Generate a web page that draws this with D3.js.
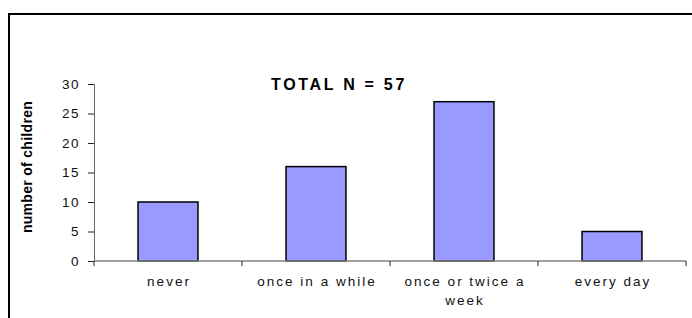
<!DOCTYPE html>
<html>
<head>
<meta charset="utf-8">
<script src="https://cdn.jsdelivr.net/npm/d3@7"></script>
<style>
  body { margin: 0; background: #fff; }
  text { font-family: "Liberation Sans", Arial, sans-serif; }
</style>
</head>
<body>
<div id="chart"></div>
<script>
var categories = ["never", "once in a while", "once or twice a week", "every day"];
var counts = [10, 16, 27, 5];
var yTicks = [0, 5, 10, 15, 20, 25, 30];
var labelLines = [["never"], ["once in a while"], ["once or twice a", "week"], ["every day"]];

var data = categories.map(function(c, i) {
    return { cat: c, n: counts[i], lines: labelLines[i] };
});

var W = 692, H = 318;
var margin = { top: 84, left: 94, bottom: 57, right: 6 },
    width = W - margin.left - margin.right,
    height = H - margin.top - margin.bottom;

var root = d3.select("#chart").append("svg")
    .attr("width", W)
    .attr("height", H);

// outer frame (only top and left edges fall inside the picture)
root.append("path")
    .attr("d", "M9,318 V14 H692")
    .attr("fill", "none")
    .attr("stroke", "#000")
    .attr("stroke-width", 2);

var svg = root.append("g")
    .attr("transform", "translate(" + margin.left + "," + margin.top + ")");

const x = d3.scaleBand()
    .domain(categories)
    .range([0, width])
    .paddingInner(0.595)
    .paddingOuter(0.2975);

const y = d3.scaleLinear()
    .domain([0, 30])
    .range([height, 0]);

// bars
svg.selectAll("rect")
    .data(data)
    .join("rect")
    .attr("x", d => x(d.cat))
    .attr("y", d => y(d.n))
    .attr("width", x.bandwidth())
    .attr("height", d => height - y(d.n))
    .attr("fill", "#9999ff")
    .attr("stroke", "#000")
    .attr("stroke-width", 1.5);

// y axis
var yAxis = svg.append("g")
    .attr("class", "y-axis")
    .call(d3.axisLeft(y).tickValues(yTicks).tickSize(6).tickPadding(8));
yAxis.select(".domain").attr("stroke", "#666");
yAxis.selectAll(".tick line").attr("stroke", "#222");
yAxis.selectAll("text")
    .style("font-size", "13.5px")
    .style("letter-spacing", "1.5px")
    .attr("fill", "#111");

// x axis with ticks between categories
var xAxis = svg.append("g")
    .attr("class", "x-axis")
    .attr("transform", "translate(0," + height + ")");
xAxis.append("line")
    .attr("x1", 0).attr("x2", width)
    .attr("stroke", "#808080").attr("stroke-width", 1.5);
d3.range(categories.length + 1).forEach(function(i) {
    var tx = i * (width / categories.length);
    xAxis.append("line")
        .attr("x1", tx).attr("x2", tx)
        .attr("y1", 0).attr("y2", 5)
        .attr("stroke", "#222");
});

xAxis.selectAll(".xlabel")
    .data(data)
    .join("text")
    .attr("class", "xlabel")
    .attr("text-anchor", "middle")
    .attr("fill", "#111")
    .style("font-size", "13.5px")
    .style("letter-spacing", "2px")
    .each(function(d) {
        var t = d3.select(this);
        d.lines.forEach(function(line, j) {
            t.append("tspan")
                .attr("x", x(d.cat) + x.bandwidth() / 2 + 1)
                .attr("y", 25 + j * 19)
                .text(line);
        });
    });

// y axis title
root.append("text")
    .attr("transform", "rotate(-90)")
    .attr("x", -167)
    .attr("y", 32)
    .attr("text-anchor", "middle")
    .style("font-size", "14px")
    .style("font-weight", "bold")
    .style("letter-spacing", "0.3px")
    .text("number of children");

// chart title
root.append("text")
    .attr("x", 339)
    .attr("y", 90)
    .attr("text-anchor", "middle")
    .style("font-size", "16px")
    .style("font-weight", "bold")
    .style("letter-spacing", "2.7px")
    .text("TOTAL N = 57");
</script>
</body>
</html>
